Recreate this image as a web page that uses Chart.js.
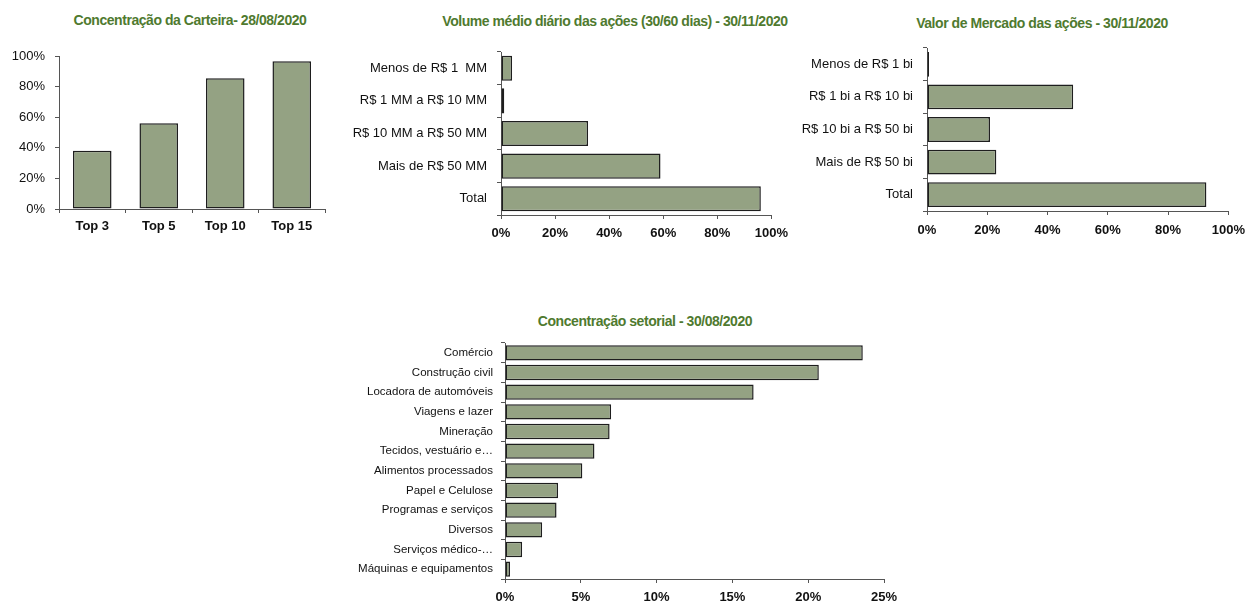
<!DOCTYPE html>
<html>
<head>
<meta charset="utf-8">
<script src="https://cdn.jsdelivr.net/npm/chart.js@4.4.1/dist/chart.umd.min.js"></script>
<style>
  html, body { margin: 0; padding: 0; background: #fff; width: 1253px; height: 601px; overflow: hidden; }
  .box { position: absolute; }
  .ttl {
    position: absolute; width: 400px; text-align: center; line-height: 16px;
    font: bold 14px "Liberation Sans", Arial, sans-serif; letter-spacing: -0.45px; color: #4f7a2f;
    white-space: nowrap;
  }
</style>
</head>
<body>
<div class="ttl" style="left:-10px;top:12px">Concentração da Carteira- 28/08/2020</div>
<div class="ttl" style="left:415px;top:13px">Volume médio diário das ações (30/60 dias) - 30/11/2020</div>
<div class="ttl" style="left:842px;top:15px">Valor de Mercado das ações - 30/11/2020</div>
<div class="ttl" style="left:445px;top:313px">Concentração setorial - 30/08/2020</div>

<canvas id="cCarteira" class="box" width="340" height="240" style="left:0;top:0"></canvas>
<canvas id="cVolume" class="box" width="455" height="250" style="left:340px;top:0"></canvas>
<canvas id="cMercado" class="box" width="463" height="250" style="left:790px;top:0"></canvas>
<canvas id="cSetor" class="box" width="560" height="300" style="left:350px;top:305px"></canvas>

<script>
// dados (em %)
var topLabels = ['Top 3', 'Top 5', 'Top 10', 'Top 15'];
var topValues = [38, 56, 85.5, 96.5];

var volLabels = ['Menos de R$ 1  MM', 'R$ 1 MM a R$ 10 MM', 'R$ 10 MM a R$ 50 MM', 'Mais de R$ 50 MM', 'Total'];
var volValues = [4.1, 1.2, 32.2, 59, 96.1];

var mktLabels = ['Menos de R$ 1 bi', 'R$ 1 bi a R$ 10 bi', 'R$ 10 bi a R$ 50 bi', 'Mais de R$ 50 bi', 'Total'];
var mktValues = [0.5, 48.5, 20.9, 23, 92.7];

var setorLabels = ['Comércio', 'Construção civil', 'Locadora de automóveis', 'Viagens e lazer', 'Mineração',
  'Tecidos, vestuário e\u2026', 'Alimentos processados', 'Papel e Celulose', 'Programas e serviços', 'Diversos',
  'Serviços médico-\u2026', 'Máquinas e equipamentos'];
var setorValues = [23.6, 20.7, 16.4, 7.0, 6.9, 5.9, 5.1, 3.5, 3.4, 2.45, 1.13, 0.33];

var pctTicks = [0, 20, 40, 60, 80, 100];
var setorTicks = [0, 5, 10, 15, 20, 25];

var FILL = '#94a283';
var EDGE = '#1e1e1e';
var AXIS = '#555555';
var FONT = '"Liberation Sans", Arial, sans-serif';

Chart.defaults.font.family = FONT;
Chart.defaults.color = '#111';

function pct(v) { return v + '%'; }

function fixW(w) { return function (s) { s.width = w; }; }
function fixH(h) { return function (s) { s.height = h; }; }

function tickGrid() {
  return { drawOnChartArea: false, drawTicks: true, tickLength: 4, color: AXIS, lineWidth: 1 };
}

function barDataset(values, pctBar) {
  return {
    data: values,
    backgroundColor: FILL,
    borderColor: EDGE,
    borderWidth: 1.5,
    borderSkipped: false,
    minBarLength: 2,
    categoryPercentage: 1,
    barPercentage: pctBar
  };
}

function baseOpts(pad) {
  return {
    responsive: false,
    animation: false,
    events: [],
    layout: { padding: pad },
    plugins: { legend: { display: false }, tooltip: { enabled: false }, title: { display: false } }
  };
}

// barras horizontais (volume, valor de mercado, setorial)
function hbar(id, labels, values, tickVals, o) {
  var opts = baseOpts(o.pad);
  opts.indexAxis = 'y';
  opts.scales = {
    y: {
      grid: tickGrid(),
      border: { display: true, color: AXIS },
      ticks: { font: { size: o.catSize }, padding: o.catPad, color: '#111' },
      afterFit: fixW(o.yw)
    },
    x: {
      min: tickVals[0],
      max: tickVals[tickVals.length - 1],
      grid: tickGrid(),
      border: { display: true, color: AXIS },
      afterBuildTicks: function (s) { s.ticks = tickVals.map(function (v) { return { value: v }; }); },
      ticks: { callback: pct, font: { size: 13, weight: 'bold' }, padding: o.xPad, maxRotation: 0, color: '#111' },
      afterFit: fixH(o.xh)
    }
  };
  new Chart(document.getElementById(id), {
    type: 'bar',
    data: { labels: labels, datasets: [barDataset(values, o.bp)] },
    options: opts
  });
}

// Concentração da carteira (colunas)
(function () {
  var opts = baseOpts({ top: 56, right: 15, left: 0, bottom: 0 });
  opts.scales = {
    x: {
      grid: tickGrid(),
      border: { display: true, color: AXIS },
      ticks: { font: { size: 13, weight: 'bold' }, padding: 6, color: '#111' },
      afterFit: fixH(31)
    },
    y: {
      min: 0, max: 100,
      grid: tickGrid(),
      border: { display: true, color: AXIS },
      afterBuildTicks: function (s) { s.ticks = pctTicks.map(function (v) { return { value: v }; }); },
      ticks: { callback: pct, font: { size: 13 }, padding: 10, color: '#111' },
      afterFit: fixW(59)
    }
  };
  new Chart(document.getElementById('cCarteira'), {
    type: 'bar',
    data: { labels: topLabels, datasets: [barDataset(topValues, 0.58)] },
    options: opts
  });
})();

hbar('cVolume', volLabels, volValues, pctTicks,
  { pad: { top: 52, right: 20, left: 0, bottom: 0 }, yw: 161, xh: 35, catSize: 13, catPad: 10, xPad: 7, bp: 0.77 });

hbar('cMercado', mktLabels, mktValues, pctTicks,
  { pad: { top: 48, right: 17, left: 0, bottom: 0 }, yw: 137, xh: 39, catSize: 13, catPad: 10, xPad: 8, bp: 0.76 });

hbar('cSetor', setorLabels, setorValues, setorTicks,
  { pad: { top: 38, right: 26, left: 0, bottom: 0 }, yw: 155, xh: 26, catSize: 11.5, catPad: 8, xPad: 7, bp: 0.78 });
</script>
</body>
</html>
